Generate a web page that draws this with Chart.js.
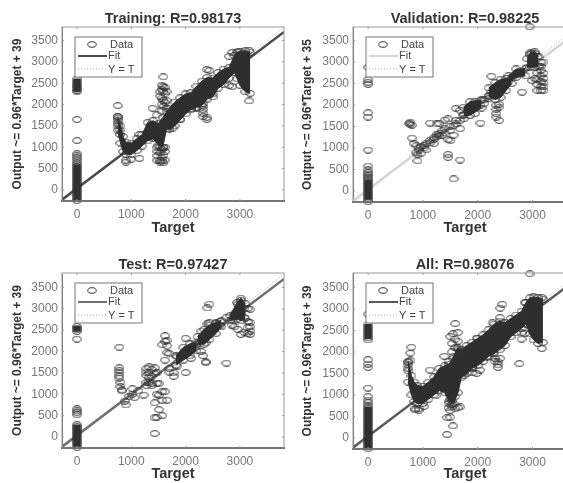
<!DOCTYPE html>
<html>
<head>
<meta charset="utf-8">
<title>Regression plots</title>
<script src="https://cdn.jsdelivr.net/npm/chart.js@4"></script>
<style>
  html, body { margin: 0; padding: 0; background: #fff; }
  #page { position: relative; width: 563px; height: 483px; overflow: hidden; }
  #page div { position: absolute; }
  canvas { filter: blur(0.6px); }
</style>
</head>
<body>
<div id="page">
  <div id="box1"><canvas id="training"></canvas></div>
  <div id="box2"><canvas id="validation"></canvas></div>
  <div id="box3"><canvas id="test"></canvas></div>
  <div id="box4"><canvas id="all"></canvas></div>
</div>
<script>
const xTickValues = [0, 1000, 2000, 3000];
const yTickValues = [0, 500, 1000, 1500, 2000, 2500, 3000, 3500];
const legendLabels = ['Data', 'Fit', 'Y = T'];
const identityLine = [-276, 3812];

// [target, [outputs...]] columns of the loose circles
const trainingRings = [
  [0, [-250,-210,-170,-130,-90,-50,-10,30,70,110,150,190,230,270,310,350,390,430,470,510,550,600,640,700,750,800,850,1160,1650,2300,2340,2380,2420,2460,2500,2550,2600]],
  [750, [1975,1720,1680,1620,1560,1500]], [790, [1400,1300]], [900, [650,700]], [1000, [720]], [1150, [740,1300]],
  [1393, [1914]], [1466, [1757]], [1480, [1000,900,800,700]], [1530, [2300,2200,1000,870,700,650]],
  [1560, [2450,2350,2150,2000,1850,950,750,680]], [1590, [2650,2420,2300,2100,1950,1000,820,640]], [1620, [2400,2250,2050,1000,900,700]], [1650, [2300,2100,1900]],
  [1700, [1480,1700]], [1760, [1450]], [1900, [1660]], [2100, [1900]], [2200, [1920]],
  [2320, [2020,1950,1880,1800,1720]], [2390, [2820,1650,1700]], [2440, [2800]], [2500, [2250]],
  [2800, [3130,2450]], [2860, [2420,3220]], [2970, [3250]], [3171, [3270,2086]]
];
const trainingMassT = [750,800,850,900,1000,1100,1200,1300,1400,1500,1580,1650,1700,1800,1900,2000,2100,2200,2300,2400,2500,2600,2700,2800,2900,2950,3000,3100,3190];
const trainingMassHi = [1720,1500,1250,1120,1100,1200,1300,1580,1620,1560,1700,1830,1920,2060,2160,2250,2280,2430,2550,2640,2620,2750,2830,2870,3150,3230,3250,3260,3230];
const trainingMassLo = [1400,1100,900,840,830,920,1030,1150,1200,1050,1000,1430,1420,1500,1640,1780,1880,1930,1980,2130,2180,2380,2470,2620,2750,2600,2450,2300,2260];
const trainingColumns = [[-240, 600], [2300, 2600]];

const validationRings = [
  [0, [-250,-210,-170,-130,-90,-50,-10,30,70,110,150,190,230,270,310,350,390,430,490,580,950,1720,1820,2480,2530,2590,2880]],
  [750, [1570]], [770, [1550,1600]], [800, [1230,1530]], [840, [1100]], [880, [1050,900]], [900, [700,850]], [930, [950,1000]], [970, [880,1040]],
  [1020, [1000,1060]], [1060, [960,1100]], [1130, [1580,1120,1180]], [1200, [1100,1200,1240]], [1250, [1560,1260,1320]], [1300, [1570,1280,1340]], [1350, [1300,1400]],
  [1400, [1650,1350,1450]], [1460, [1680,1200,850,780]], [1500, [1400,1500,1170]], [1560, [280,1300,1520]], [1600, [1920,1560,1640]], [1680, [1880,1450,720,1640]],
  [1750, [1680,1780]], [1950, [1800,2080]], [2050, [1580,2000,2100]], [2120, [2120,2040]], [2200, [2150,2220]], [2250, [2300,2670]],
  [2340, [2000,1900,1800,1720]], [2390, [2020,1640,1950]], [2810, [2300]], [2950, [3820,3180]], [2990, [2570,3210]],
  [3040, [2620,3200]], [3090, [2340,2480,2600,2750,3130]], [3150, [2340,2420,2540,2680,2800,2900,3000]], [3200, [2340,2420,2520,2620,2740,3000]]
];
const validationColumns = [[-200, 250]];
const validationMass1T = [1740,1860,2070];
const validationMass1Hi = [1950,2080,2120];
const validationMass1Lo = [1760,1760,1930];
const validationMass2T = [2200,2320,2420,2520,2620];
const validationMass2Hi = [2400,2520,2600,2620,2640];
const validationMass2Lo = [2200,2130,2180,2340,2500];
const validationMass3T = [2560,2700,2870];
const validationMass3Hi = [2680,2840,2850];
const validationMass3Lo = [2550,2640,2680];
const validationMass4T = [2900,2960,3040,3110];
const validationMass4Hi = [3080,3220,3240,3120];
const validationMass4Lo = [2880,2880,2880,2900];

const testRings = [
  [0, [-250,-190,-150,-110,-70,-30,10,50,90,130,170,210,250,290,520,570,610,660,2290,2470,2510,2550,2590]],
  [780, [2100,1620,1560,1500,1430,1380]], [800, [1280,1180]], [830, [1100,1080]], [880, [840]], [900, [750]], [960, [950]], [1020, [1000,1130]], [1060, [920]], [1130, [1080]], [1230, [980]],
  [1280, [1600,1520,1440,1280,1200]], [1330, [1640,1500,1380,1280]], [1380, [1580,1420,1200,1250]], [1430, [1620,1480,800,450,80]], [1470, [1500,1260,1000,460]], [1510, [1250,980,640]],
  [1570, [2160,1060,860,500]], [1620, [2370,2240,1800,1060]], [1660, [2250,2130,860,1970]], [1700, [1600,1520,1950]], [1780, [1420,1500]], [1850, [1660,1880]],
  [2000, [2310,1510,2000]], [2100, [1840,2080]], [2200, [2120,2160]], [2290, [2480,2000]], [2320, [1900]], [2370, [1740,1760,2200]], [2400, [3020,2650]], [2440, [3110,2680]],
  [2560, [2650]], [2640, [2700,2620]], [2750, [1730,2800]], [2850, [2750,2620]], [2900, [2580,2880]], [2960, [2520,3100]],
  [3020, [3200,2900,2400]], [3080, [3010,2800,2450]], [3140, [3010,2700,2560,2420]], [3190, [2990,2680,2580,2480,2400]]
];
const testColumns = [[-230, 290], [2470, 2600]];
const testMass1T = [1820,1960,2080,2200];
const testMass1Hi = [1900,2100,2180,2220];
const testMass1Lo = [1680,1800,1900,2020];
const testMass2T = [2220,2340,2440,2560,2660];
const testMass2Hi = [2350,2520,2620,2680,2730];
const testMass2Lo = [2180,2170,2280,2420,2580];
const testMass3T = [2820,2950,3020,3100];
const testMass3Hi = [2850,3150,3250,3120];
const testMass3Lo = [2720,2760,2720,2780];

const allRings = [
  [0, [-250,-210,-170,-130,-90,-50,-10,30,70,110,150,190,230,270,310,350,390,430,470,510,550,590,630,670,710,760,820,880,960,1160,1640,1720,1820,2280,2330,2380,2430,2480,2530,2580,2630,2880]],
  [730, [1760,1700,1620,1560]], [770, [1975,1800]], [790, [2110]], [860, [680,650]], [920, [640,680]], [1020, [730]], [1130, [1580]], [1240, [980]],
  [1390, [1900]], [1440, [80,470]], [1470, [1780,800,700]], [1500, [2360,1000,900,640,480]], [1530, [2200,2000,860,780,720]], [1550, [280,2420,1850]], [1590, [2660,2100,2300,960,680]],
  [1640, [2450,2250,2050,1880,700]], [1680, [720,2000]], [1750, [1450,1520]], [1900, [1650,1520]], [1980, [1500,2320]], [2040, [1580]],
  [2170, [1880]], [2270, [1970,2680]], [2310, [1850,1780]], [2370, [1700,1640,1770]], [2410, [3020,1850,2800]], [2450, [3110]],
  [2760, [1730]], [2800, [2300,2450]], [2860, [3150,2430]], [2950, [3820]], [3170, [3270,2080]]
];
const allMassT = [730,790,840,900,1000,1100,1200,1300,1400,1480,1560,1640,1700,1800,1900,2000,2100,2200,2300,2400,2500,2600,2700,2800,2880,2950,3020,3100,3190];
const allMassHi = [1780,1450,1300,1220,1200,1300,1420,1620,1680,1720,1900,2100,2050,2150,2230,2320,2400,2520,2650,2720,2680,2780,2860,2950,3150,3260,3280,3270,3230];
const allMassLo = [1300,1000,850,800,800,900,1000,1100,1050,850,800,1050,1400,1500,1620,1680,1780,1900,1960,2050,2150,2350,2450,2550,2650,2420,2280,2200,2220];
const allColumns = [[-240, 720], [2300, 2650]];

const panels = [
  { id: 'training', box: 'box1', left: 0, top: 0, width: 290, height: 237, plot: [62, 27, 284, 201], yPad: 10,
    title: 'Training: R=0.98173', yLabel: 'Output ~= 0.96*Target + 39', xRange: [-276, 3812], yRange: [-258, 3817],
    rings: trainingRings, columns: trainingColumns, masses: [[trainingMassT, trainingMassHi, trainingMassLo]], fit: [-226, 3700], fitColor: '#4d4d4d' },
  { id: 'validation', box: 'box2', left: 285, top: 0, width: 300, height: 237, plot: [68, 27, 292, 202], yPad: 15,
    title: 'Validation: R=0.98225', yLabel: 'Output ~= 0.96*Target + 35', xRange: [-276, 3812], yRange: [-258, 3817],
    rings: validationRings, columns: validationColumns, masses: [[validationMass1T, validationMass1Hi, validationMass1Lo], [validationMass2T, validationMass2Hi, validationMass2Lo], [validationMass3T, validationMass3Hi, validationMass3Lo], [validationMass4T, validationMass4Hi, validationMass4Lo]], fit: [-230, 3695], fitColor: '#d4d4d4' },
  { id: 'test', box: 'box3', left: 0, top: 240, width: 290, height: 243, plot: [62, 33, 284, 208], yPad: 10,
    title: 'Test: R=0.97427', yLabel: 'Output ~= 0.96*Target + 39', xRange: [-276, 3812], yRange: [-258, 3838],
    rings: testRings, columns: testColumns, masses: [[testMass1T, testMass1Hi, testMass1Lo], [testMass2T, testMass2Hi, testMass2Lo], [testMass3T, testMass3Hi, testMass3Lo]], fit: [-226, 3700], fitColor: '#707070' },
  { id: 'all', box: 'box4', left: 285, top: 240, width: 300, height: 243, plot: [68, 33, 292, 209], yPad: 15,
    title: 'All: R=0.98076', yLabel: 'Output ~= 0.96*Target + 39', xRange: [-276, 3812], yRange: [-258, 3838],
    rings: allRings, columns: allColumns, masses: [[allMassT, allMassHi, allMassLo]], fit: [-226, 3700], fitColor: '#5a5a5a' }
];

// MATLAB's markers got squashed in the picture, so the circle is a small ellipse
function makeRing() {
  const c = document.createElement('canvas');
  c.width = 10;
  c.height = 7;
  const g = c.getContext('2d');
  g.strokeStyle = '#333';
  g.lineWidth = 1;
  g.beginPath();
  g.ellipse(5, 3.5, 4.2, 2.8, 0, 0, Math.PI * 2);
  g.stroke();
  return c;
}
const ring = makeRing();

// legend box sits inside the axes, on top of the data
const regressionLegend = {
  id: 'regressionLegend',
  afterDraw(chart, args, opts) {
    const g = chart.ctx;
    const a = chart.chartArea;
    const x = a.left + 13;
    const y = a.top + 10;
    g.save();
    g.strokeStyle = '#999';
    g.strokeRect(a.left, a.top, a.width, a.height);
    // little inward ticks on the edges
    xTickValues.forEach(v => {
      const px = chart.scales.x.getPixelForValue(v);
      g.beginPath();
      g.moveTo(px, a.top);
      g.lineTo(px, a.top + 2);
      g.moveTo(px, a.bottom);
      g.lineTo(px, a.bottom - 2);
      g.stroke();
    });
    yTickValues.forEach(v => {
      const py = chart.scales.y.getPixelForValue(v);
      g.beginPath();
      g.moveTo(a.right, py);
      g.lineTo(a.right - 2, py);
      g.moveTo(a.left, py);
      g.lineTo(a.left + 2, py);
      g.stroke();
    });
    g.fillStyle = '#fff';
    g.strokeStyle = '#777';
    g.lineWidth = 1;
    g.fillRect(x, y, 67, 40);
    g.strokeRect(x, y, 67, 40);
    g.drawImage(ring, x + 12, y + 4);
    g.strokeStyle = opts.fitColor;
    g.lineWidth = 2;
    g.beginPath();
    g.moveTo(x + 3, y + 19);
    g.lineTo(x + 32, y + 19);
    g.stroke();
    g.strokeStyle = '#aaa';
    g.lineWidth = 1;
    g.setLineDash([1, 2]);
    g.beginPath();
    g.moveTo(x + 3, y + 32);
    g.lineTo(x + 32, y + 32);
    g.stroke();
    g.setLineDash([]);
    g.fillStyle = '#444';
    g.font = '11px "Liberation Sans"';
    g.textBaseline = 'middle';
    g.fillText(legendLabels[0], x + 35, y + 8);
    g.fillText(legendLabels[1], x + 33, y + 19);
    g.fillText(legendLabels[2], x + 33, y + 33);
    g.restore();
  }
};

function ringPoints(columns) {
  const pts = [];
  columns.forEach(col => {
    col[1].forEach(v => pts.push({ x: col[0], y: v }));
  });
  return pts;
}

function pairUp(xs, ys) {
  return xs.map((x, i) => ({ x: x, y: ys[i] }));
}

panels.forEach(p => {
  const box = document.getElementById(p.box);
  box.style.left = p.left + 'px';
  box.style.top = p.top + 'px';
  box.style.width = p.width + 'px';
  box.style.height = p.height + 'px';
  const canvas = document.getElementById(p.id);
  canvas.width = p.width;
  canvas.height = p.height;

  const datasets = [{
    data: ringPoints(p.rings),
    showLine: false,
    pointStyle: ring,
    clip: false
  }];
  // the solid black stack at target 0
  p.columns.forEach(c => {
    datasets.push({
      data: pairUp([0, 0], c),
      showLine: true,
      borderColor: '#2e2e2e',
      borderWidth: 7,
      pointRadius: 0
    });
  });
  p.masses.forEach(m => {
    datasets.push({
      data: pairUp(m[0], m[1]),
      showLine: true,
      borderColor: '#2e2e2e',
      borderWidth: 1,
      backgroundColor: '#2e2e2e',
      fill: '+1',
      pointStyle: ring
    });
    datasets.push({
      data: pairUp(m[0], m[2]),
      showLine: true,
      borderColor: '#2e2e2e',
      borderWidth: 1,
      fill: false,
      pointStyle: ring
    });
  });
  datasets.push({
    data: pairUp(p.xRange, p.fit),
    showLine: true,
    borderColor: p.fitColor,
    borderWidth: 2.5,
    pointRadius: 0
  });
  datasets.push({
    data: pairUp(identityLine, identityLine),
    showLine: true,
    borderColor: '#aaa',
    borderWidth: 1,
    borderDash: [1, 2],
    pointRadius: 0
  });

  new Chart(canvas, {
    type: 'scatter',
    data: { datasets: datasets },
    options: {
      responsive: false,
      animation: false,
      devicePixelRatio: 1,
      layout: { padding: { right: p.width - p.plot[2], top: 0 } },
      plugins: {
        legend: { display: false },
        tooltip: { enabled: false },
        title: {
          display: true,
          text: p.title,
          fullSize: false,
          color: '#333',
          font: { family: '"Liberation Sans"', size: 14.5, weight: 'bold', lineHeight: 1 },
          padding: { top: p.plot[1] - 15.5, bottom: 1 }
        },
        regressionLegend: { fitColor: p.fitColor }
      },
      scales: {
        x: {
          type: 'linear',
          min: p.xRange[0],
          max: p.xRange[1],
          afterBuildTicks: s => { s.ticks = xTickValues.map(v => ({ value: v })); },
          afterFit: s => { s.height = p.height - p.plot[3]; },
          grid: { display: false, drawTicks: false, tickLength: 0 },
          border: { color: '#555', width: 2 },
          ticks: { color: '#777', font: { family: '"Liberation Sans"', size: 12 }, maxRotation: 0, padding: 6, callback: v => String(v) },
          title: { display: true, text: 'Target', color: '#333', font: { family: '"Liberation Sans"', size: 14.5, weight: 'bold' }, padding: { top: 2, bottom: 0 } }
        },
        y: {
          type: 'linear',
          min: p.yRange[0],
          max: p.yRange[1],
          afterBuildTicks: s => { s.ticks = yTickValues.map(v => ({ value: v })); },
          afterFit: s => { s.width = p.plot[0]; },
          grid: { display: false, drawTicks: false, tickLength: 0 },
          border: { color: '#666', width: 1 },
          ticks: { color: '#777', font: { family: '"Liberation Sans"', size: 12 }, padding: 4, callback: v => String(v) },
          title: { display: true, text: p.yLabel, color: '#333', font: { family: '"Liberation Sans"', size: 12, weight: 'bold' }, padding: { top: p.yPad, bottom: 0 } }
        }
      },
      elements: { point: { radius: 4, hoverRadius: 4 }, line: { tension: 0 } }
    },
    plugins: [regressionLegend]
  });
});
</script>
</body>
</html>
